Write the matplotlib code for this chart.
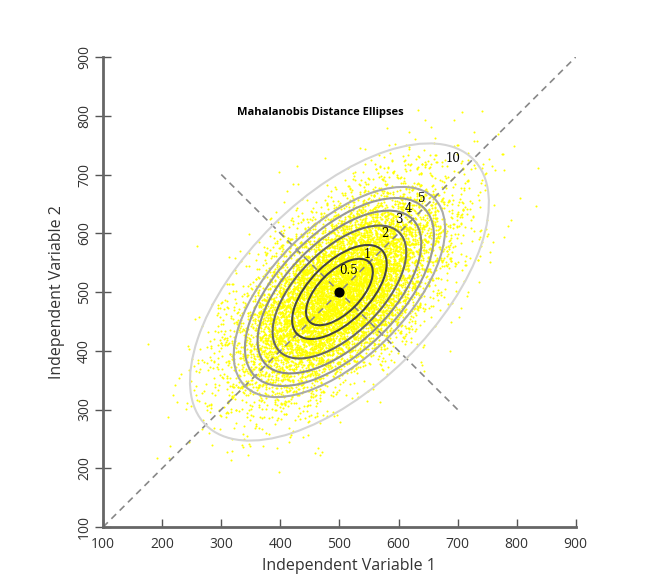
import matplotlib.pyplot as plt
import matplotlib as mpl
from matplotlib.patches import Ellipse
import numpy as np

# values
center = [500, 500]
sd_x = 80
sd_y = 80
rho = 0.6
sample_sd = 88
n_points = 9000
levels = [0.5, 1, 2, 3, 4, 5, 10]
level_colors = ['#444444', '#444444', '#666666', '#888888', '#999999', '#aaaaaa', '#d5d5d5']
label_x = [516, 547, 577, 601, 616, 640, 692]
label_y = [537, 564, 599, 623, 643, 660, 728]
ticks = [100, 200, 300, 400, 500, 600, 700, 800, 900]
diag_x = [100, 900]
diag_y = [100, 900]
anti_x = [300, 700]
anti_y = [700, 300]

cov = np.array([[sd_x**2, rho * sd_x * sd_y], [rho * sd_x * sd_y, sd_y**2]])
# the cloud is a sample from the distribution shown (fixed seed)
rng = np.random.default_rng(7)
pts = rng.multivariate_normal(center, cov * (sample_sd / sd_x)**2, n_points)

mpl.rcParams['font.family'] = 'Open Sans'
fig = plt.figure(figsize=(6.61, 5.82), dpi=100)
ax = fig.add_axes([0.156, 0.0945, 0.715, 0.8075])

ax.scatter(pts[:, 0], pts[:, 1], s=2.2, c='#ffff00', linewidths=0, zorder=1)

# ellipse axes from the covariance eigen-decomposition
vals, vecs = np.linalg.eigh(cov)
angle = np.degrees(np.arctan2(vecs[1, 1], vecs[0, 1]))
for lev, col in zip(levels, level_colors):
    w = 2 * np.sqrt(lev * vals[1])
    h = 2 * np.sqrt(lev * vals[0])
    ax.add_patch(Ellipse(center, w, h, angle=angle, fill=False,
                         edgecolor=col, linewidth=1.5, zorder=3))

ax.plot(diag_x, diag_y, ls=(0, (4, 3)), color='#888888', lw=1.2, zorder=2)
ax.plot(anti_x, anti_y, ls=(0, (4, 3)), color='#888888', lw=1.2, zorder=2)
ax.scatter([center[0]], [center[1]], s=40, c='black', zorder=5)

for lev, lx, ly in zip(levels, label_x, label_y):
    ax.text(lx, ly, f'{lev:g}', fontsize=8.5, ha='center', va='center',
            family='DejaVu Serif', zorder=6)

ax.text(467, 806, 'Mahalanobis Distance Ellipses', fontsize=8, ha='center',
        va='center', fontweight='bold')

ax.set_xlim(100, 900)
ax.set_ylim(100, 900)
ax.set_xticks(ticks)
ax.set_yticks(ticks)
for lbl in ax.get_yticklabels():
    lbl.set_rotation(90)
    lbl.set_va('center')
ax.tick_params(axis='x', direction='in', length=6, width=1.0, color='#555555',
               labelsize=10, labelcolor='#333333', pad=7)
ax.tick_params(axis='y', direction='inout', length=12, width=1.0, color='#555555',
               labelsize=10, labelcolor='#333333', pad=2)
for s in ['top', 'right']:
    ax.spines[s].set_visible(False)
for s in ['left', 'bottom']:
    ax.spines[s].set_color('#666666')
    ax.spines[s].set_linewidth(2)

ax.set_xlabel('Independent Variable 1', fontsize=11.5, color='#333333', labelpad=3)
ax.xaxis.set_label_coords(0.52, -0.065)
ax.set_ylabel('Independent Variable 2', fontsize=11.5, color='#333333', labelpad=9)

plt.savefig('out.png', dpi=100)
plt.close()
